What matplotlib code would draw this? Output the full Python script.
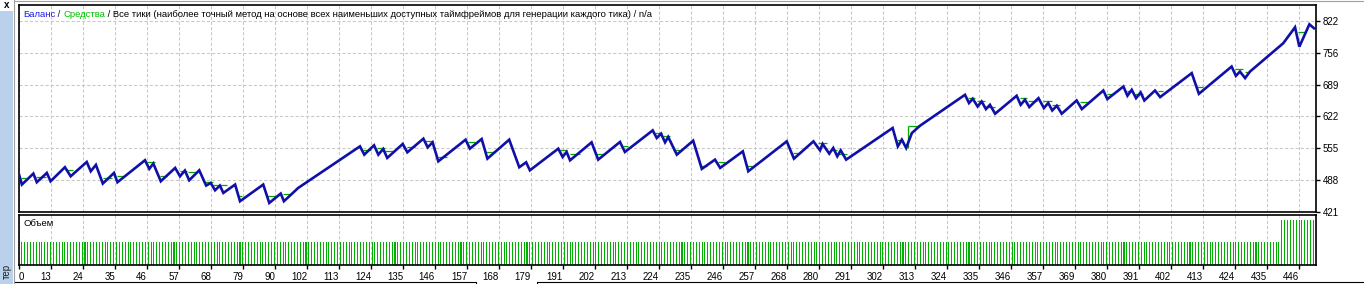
import numpy as np
import matplotlib
matplotlib.use('Agg')
import matplotlib.pyplot as plt
from matplotlib.patches import Rectangle
from matplotlib.lines import Line2D

# balance curve vertices (trade number, balance)
trade = [0, 1, 5.0, 6.2, 9.7, 11.0, 16.0, 18.0, 23.6, 25.0, 26.8, 29.2, 33.1, 34.3,
         43.9, 45.4, 46.8, 49.4, 54.4, 56.1, 57.8, 59.3, 62.8, 65.2, 66.8, 68.3,
         70.0, 71.2, 75.3, 77.0, 85.1, 87.2, 91.2, 92.3, 97.3, 118.8, 120.3, 123.7,
         125.2, 126.9, 128.3, 133.7, 135.3, 140.9, 142.4, 144.1, 146.1, 155.6,
         157.1, 161.2, 163.2, 170.8, 174.3, 176.7, 178.0, 187.9, 189.4, 190.8,
         192.0, 199.5, 201.8, 209.4, 211.1, 220.8, 222.2, 223.7, 225.1, 226.2,
         229.2, 234.9, 237.9, 242.5, 244.3, 252.2, 254.1, 267.5, 270.0, 276.8,
         279.1, 280.0, 282.3, 283.7, 285.1, 286.3, 288.2, 304.4, 306.2, 307.6,
         309.1, 311.1, 313.9, 329.6, 331.0, 332.3, 334.0, 335.4, 336.9, 338.3,
         340.1, 347.6, 349.0, 350.5, 352.0, 355.2, 357.1, 358.6, 360.0, 361.6,
         363.3, 368.5, 370.3, 377.8, 379.2, 384.8, 386.2, 387.7, 389.2, 390.8,
         392.1, 395.8, 397.6, 408.6, 411.1, 422.5, 424.0, 425.4, 427.2, 428.9,
         440.5, 444.6, 446.1, 449.6, 451.2]
balance = [500, 478.6, 501.6, 483.5, 503, 485.5, 515, 496, 526, 506.5, 520, 480.7,
           503, 483.5, 529.7, 511.6, 522.7, 485.5, 513.5, 496, 508, 487.6, 508.5,
           476.5, 482, 466.6, 476.5, 461, 478.6, 443.6, 478.6, 440, 459.7, 443.6,
           471.6, 558.8, 541.4, 561, 541.4, 553.3, 534.5, 563.8, 546.3, 574.9,
           556.7, 567.2, 527.4, 572.8, 554, 574.2, 533, 572.8, 515, 525.3, 508.5,
           554, 536.6, 547, 529.5, 567.2, 530.9, 568, 547, 592.3, 576.4, 585.4,
           567.2, 578.5, 541.4, 570.7, 511.5, 530.9, 513.5, 548.3, 506.5, 569.3,
           533, 569.3, 550.4, 563.8, 543.5, 555.4, 537.9, 550.4, 530.9, 597.3,
           558.8, 572.8, 555.4, 586.8, 602, 667, 649.7, 658.7, 642.5, 653, 637,
           646, 627.3, 665, 646, 656.6, 641.3, 660, 639.2, 649.7, 634.2, 644,
           627.3, 655.1, 637, 676, 658, 684.4, 665, 677.5, 660, 672, 655.1, 676,
           662.2, 712.5, 669.1, 726.3, 706.8, 715.8, 702, 715.8, 775.3, 808.8,
           768, 815, 806.7]

# equity: flat stretches where it leaves the balance line
eq_from = [0.7, 5.9, 16.4, 29.3, 34.1, 44.6, 49.1, 56.1, 58.9, 64.8, 67.6, 76.3,
           86.4, 92.0, 119.9, 124.7, 127.5, 135.2, 141.5, 146.0, 156.4, 162.4,
           188.5, 192.0, 200.7, 210.5, 221.6, 224.4, 227.9, 237.3, 243.6, 253.7,
           269.7, 278.4, 282.6, 285.4, 305.9, 309.9, 330.7, 333.8, 336.6, 348.8,
           351.6, 356.8, 359.9, 369.7, 379.1, 386.1, 388.9, 396.9, 410.5, 423.7,
           427.2, 445.6]
eq_to = [2.4, 9.4, 18.8, 32.4, 36.2, 47.4, 51.6, 58.5, 62.0, 67.6, 72.5, 77.7,
         89.9, 94.4, 122.6, 127.5, 130.3, 138.0, 144.3, 149.1, 158.9, 165.9,
         190.9, 195.5, 204.2, 212.2, 224.0, 226.8, 230.3, 239.7, 246.0, 255.7,
         272.1, 281.5, 285.0, 288.5, 308.0, 313.9, 333.1, 336.6, 340.1, 351.2,
         354.7, 359.9, 362.7, 372.5, 381.2, 388.2, 391.6, 398.6, 412.5, 426.5,
         428.9, 448.1]
eq_level = [492.7, 494.8, 510, 492.7, 496, 525, 496, 506.5, 504.5, 483.5, 478.6,
            455, 453.7, 458.5, 551.6, 555.4, 549.8, 557.5, 569.3, 536.6, 567.2,
            547, 551.6, 543.5, 543.5, 558.8, 587, 580, 550.4, 518.4, 525.3, 518.4,
            545, 565.9, 551.6, 543.5, 572.8, 602, 660, 654.5, 641.3, 660, 653, 655,
            646, 650.9, 669, 674, 669, 674, 683, 721, 714, 798.3]
eq_jump_trade = 309.9
eq_jump_low, eq_jump_high = 555.4, 602

# lot size per trade
lots = [0.1] * 439 + [0.2] * 12

x_labels = ['0', '13', '24', '35', '46', '57', '68', '79', '90', '102', '113', '124',
            '135', '146', '157', '168', '179', '191', '202', '213', '224', '235',
            '246', '257', '268', '280', '291', '302', '313', '324', '335', '346',
            '357', '369', '380', '391', '402', '413', '424', '435', '446']
y_labels = ['421', '488', '555', '622', '689', '756', '822']

title_parts = [('Баланс', '#1a1ae6'), (' / ', '#101040'), ('Средства', '#00c000'),
               (' / Все тики (наиболее точный метод на основе всех наименьших доступных '
                'таймфреймов для генерации каждого тика) / n/a', '#000000')]

BLUE = '#1010a8'
GREEN = '#00a800'
VOL_GREEN = '#00b000'
GRID = '#c8c8c8'
FS = 6.8

W, H = 1364, 284
plt.rcParams['font.family'] = ['Liberation Sans', 'DejaVu Sans']
fig = plt.figure(figsize=(W / 100, H / 100), dpi=100)
fig.patch.set_facecolor('white')


def fx(x):
    return x / W


def fy(y):
    return 1 - y / H


ax = fig.add_axes([fx(19), fy(212), (1316 - 19) / W, (212 - 5) / H])
axv = fig.add_axes([fx(19), fy(265), (1316 - 19) / W, (265 - 215) / H])

xmax = 451.9
step = 446 / 40
xt = np.arange(len(x_labels)) * step

# main chart
ax.hlines(eq_level, eq_from, eq_to, color=GREEN, lw=0.9, zorder=2)
ax.vlines(eq_jump_trade, eq_jump_low, eq_jump_high, color=GREEN, lw=0.9, zorder=2)
ax.plot(trade, balance, color=BLUE, lw=1.9, zorder=3, solid_joinstyle='miter')
ax.set_xlim(0, xmax)
ax.set_ylim(421, 855.5)
ax.set_xticks(xt)
yt = np.linspace(float(y_labels[0]), float(y_labels[-1]), len(y_labels))
ax.set_yticks(yt, y_labels)
ax.yaxis.tick_right()
ax.tick_params(axis='x', length=0, labelbottom=False)
ax.tick_params(axis='y', direction='out', length=3, width=1, pad=2, labelsize=7,
               labelcolor='#000000')
ax.grid(True, color=GRID, linestyle=(0, (3, 2)), lw=0.75)
ax.set_axisbelow(True)
for s in ax.spines.values():
    s.set_linewidth(1.2)

# volume
vol_trade = np.arange(1, len(lots) + 1)
axv.bar(vol_trade, lots, width=0.36, color=VOL_GREEN, linewidth=0, zorder=2)
axv.set_xlim(0, xmax)
axv.set_ylim(0, 0.222)
axv.set_yticks([])
axv.set_xticks(xt, x_labels)
axv.tick_params(axis='x', direction='out', length=3, width=1, pad=2, labelsize=7)
for i, lbl in enumerate(axv.get_xticklabels()):
    lbl.set_ha('left' if i == 0 else 'right')
axv.grid(True, axis='x', color=GRID, linestyle=(0, (3, 2)), lw=0.75)
axv.set_axisbelow(True)
for s in axv.spines.values():
    s.set_linewidth(1.2)
axv.text(4 / 1297, 0.84, 'Объем', transform=axv.transAxes, fontsize=FS,
         ha='left', va='center')

# title made of coloured parts
prev = fig.text(fx(23), fy(19), title_parts[0][0], color=title_parts[0][1],
                fontsize=FS, ha='left', va='bottom')
for txt, col in title_parts[1:]:
    prev = ax.annotate(txt, xy=(1, 0), xycoords=prev, color=col, fontsize=FS,
                       ha='left', va='bottom', annotation_clip=False)

# window decorations
fig.add_artist(Rectangle((0, 0), fx(13), fy(11), transform=fig.transFigure,
                         facecolor='#b9d1ea', edgecolor='none'))
fig.add_artist(Line2D([fx(13.5), fx(13.5)], [0, 1], transform=fig.transFigure,
                      color='#a0a0a0', lw=0.8))
fig.add_artist(Line2D([fx(13.5), 1], [fy(0.5), fy(0.5)], transform=fig.transFigure,
                      color='#a0a0a0', lw=0.8))
fig.text(fx(6.5), fy(5), 'x', fontsize=7, fontweight='bold', ha='center', va='center')
fig.text(fx(6.5), fy(264), 'тер', fontsize=7, rotation=90, ha='center', va='top',
         color='#202020')
fig.add_artist(Line2D([fx(15), fx(476), fx(476)], [fy(282), fy(282), 0],
                      transform=fig.transFigure, color='black', lw=0.8))
fig.add_artist(Line2D([fx(537), fx(537), 1], [0, fy(282), fy(282)],
                      transform=fig.transFigure, color='black', lw=0.8))

fig.savefig('out.png', dpi=100)
